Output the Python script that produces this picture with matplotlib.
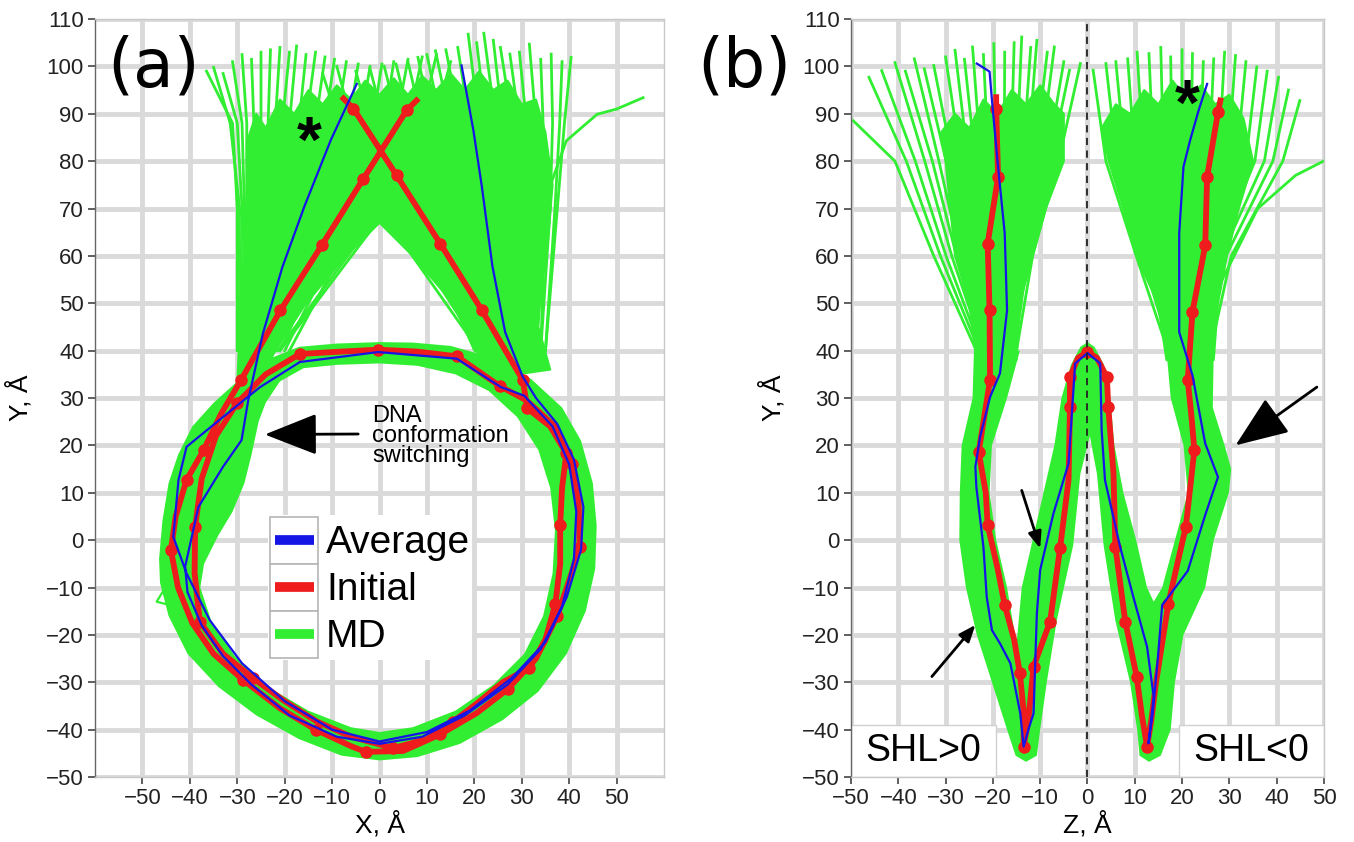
import matplotlib
matplotlib.use("Agg")
import matplotlib.pyplot as plt
from matplotlib.path import Path
from matplotlib.patches import PathPatch, Polygon, Rectangle
from matplotlib.lines import Line2D
from matplotlib.legend_handler import HandlerBase

plt.rcParams['font.family'] = ['Liberation Sans', 'DejaVu Sans']

GREEN = '#32ee32'
RED = '#ee1c1c'
BLUE = '#1515e6'
GRID = '#dadada'

# ---------------- panel (a): X-Y projection ----------------
# initial structure (red), path from one arm round both gyres to the other arm
init_a_x = [7.8, 5.7, -3.4, -12.2, -20.9, -29.2, -33.5, -37.1, -40.7, -43.0, -44.0, -42.5, -39.5, -35.0,
            -28.8, -21.0, -13.5, -6.0, -2.9, 5.0, 12.8, 20.5, 27.0, 33.0, 37.5, 40.5, 42.2, 42.0, 40.5,
            37.0, 31.0, 25.4, 16.3, 8.0, -0.3, -8.0, -16.8, -24.0, -30.0, -34.5, -37.5, -38.9, -39.0,
            -37.9, -33.0, -26.6, -20.0, -13.2, -6.0, 2.9, 10.0, 15.5, 20.5, 26.0, 31.6, 35.0, 37.1,
            38.1, 38.1, 38.5, 39.4, 36.0, 31.2, 30.2, 21.6, 12.8, 3.6, -5.5, -7.6]
init_a_y = [92.8, 90.7, 76.3, 62.2, 48.5, 33.8, 26.5, 19.0, 12.7, 5.0, -2.1, -10.0, -17.5, -24.0,
            -29.5, -35.5, -40.0, -43.5, -44.7, -44.5, -41.0, -36.5, -31.5, -25.0, -16.0, -7.0, -1.4,
            8.0, 16.0, 24.0, 29.5, 32.5, 38.8, 39.8, 40.2, 39.8, 39.3, 35.0, 29.0, 22.0, 13.0, 2.8,
            -7.0, -17.2, -24.0, -29.2, -34.0, -38.3, -41.5, -43.9, -42.0, -38.3, -34.5, -30.0, -27.0,
            -21.0, -13.4, -5.0, 3.2, 11.0, 18.3, 24.0, 27.8, 33.8, 48.5, 62.6, 77.0, 91.1, 93.2]
init_a_dots = [1, 2, 3, 4, 5, 7, 8, 10, 14, 16, 18, 20, 22, 24, 26, 28, 31, 32, 34, 36, 38, 41, 43,
               45, 49, 51, 54, 56, 58, 60, 62, 63, 64, 65, 66, 67]

# MD average (blue)
avg_a_x = [-4.8, -10.3, -15.9, -20.5, -24.6, -27.7, -29.1, -33.0, -38.2, -41.0, -40.5, -37.5, -33.0,
           -27.0, -19.0, -9.0, 0.0, 9.0, 18.0, 27.0, 34.0, 38.5, 41.0, 41.5, 40.0, 36.5, 30.5, 25.6,
           16.3, -0.3, -16.8, -25.2, -33.0, -40.7, -42.4, -43.5, -40.7, -35.8, -29.0, -20.0, -10.0,
           0.0, 10.0, 19.0, 28.0, 35.0, 39.5, 42.5, 43.0, 41.0, 37.5, 33.0, 30.2, 26.5, 23.8, 21.6,
           19.8, 17.3]
avg_a_y = [96.3, 84.4, 70.3, 57.6, 43.6, 29.5, 21.1, 15.5, 7.0, -5.6, -11.0, -18.0, -24.5, -30.5,
           -37.0, -41.5, -43.0, -41.5, -37.0, -30.5, -23.0, -14.0, -4.0, 6.0, 16.0, 24.0, 30.5, 32.3,
           38.3, 39.7, 37.6, 32.3, 26.0, 19.7, 12.7, 0.7, -7.0, -16.9, -26.0, -34.0, -40.0, -42.5,
           -40.5, -36.0, -29.0, -21.5, -12.0, -2.0, 7.0, 17.0, 24.5, 30.0, 34.5, 43.9, 57.9, 74.5,
           86.5, 100.2]

# MD ensemble: outline of the dense ring band (outer and inner edge)
ring_out_x = [0, -9, -17, -24, -30, -35, -39.5, -42.5, -44.5, -45.8, -46.5, -46.3, -44.5, -40.5, -34,
              -26, -17, -8, 0, 8, 17, 26, 33.5, 39.5, 43.5, 45.5, 45.8, 45, 42.5, 38.5, 32, 24, 15, 7]
ring_out_y = [41.8, 41.5, 40.8, 38, 33.5, 29, 24, 18, 12, 4, -4, -9, -16, -24, -31, -37, -42, -45.5,
              -46.5, -45.8, -43, -38, -32, -24, -15, -6, 3, 12, 21, 28, 34, 38.5, 41, 41.7]
ring_in_x = [0, -9, -16, -21, -24, -25.5, -27, -28.5, -31, -34, -37, -37.8, -35.5, -30.5, -23.5, -15,
             -6, 0, 7, 16, 24, 30.5, 34.5, 36.5, 37, 36, 33.5, 29, 23, 16, 8]
ring_in_y = [37.3, 37.0, 36.3, 33.5, 29, 25, 18, 12, 6, 1, -5, -10, -17, -24.5, -31, -36, -39.5, -40.5,
             -39.5, -36, -30.5, -24, -16, -7, 2, 11, 19, 26, 31.5, 35, 36.8]

# MD ensemble: dense core of the two linker-DNA fans (ragged top)
fan_a_x = [-30, -29.5, -28.5, -28, -28, -26, -24, -21, -18, -15, -12, -9, -6, -3, 0, 3, 6, 9, 12, 15,
           18, 21, 24, 27, 30, 33, 35, 36.5, 35.5, 34, 33.5, 36,
           29, 20, 15.5, 7, 0, -7, -15.5, -22, -24]
fan_a_y = [33, 45, 60, 75, 84, 90, 87, 93, 90, 95, 92, 96, 93, 97, 94, 97.5, 94, 98, 95, 98.5,
           95, 99, 95, 97, 92, 93, 86, 75, 63, 52, 45, 36,
           35, 40, 50, 60, 67, 60, 50, 40, 36]

# MD ensemble: single trajectories of the fans (start, y=70, y=88, free end)
hair_a_x = [
    [-30, -30, -31, -36.5], [-30, -29.5, -31.5, -35.0], [-29.5, -29, -30, -33.0], [-29, -28.5, -29, -31.0],
    [-29, -28, -28, -29.0], [-28, -27, -26.5, -27.0], [-28, -26.5, -25, -25.0], [-27, -25.5, -23.5, -23.0],
    [-27, -24.5, -22, -21.0], [-26, -23.5, -20.5, -19.0], [-26, -22.5, -19, -17.5], [-25, -21, -17, -15.5],
    [-25, -20, -15.5, -13.5], [-24, -18.5, -13.5, -11.5], [-24, -17, -11.5, -9.5], [-23, -15, -9, -7.0],
    [-23, -13, -6.5, -4.5], [-22, -11, -4, -2.0], [-22, -9, -1.5, 0.5], [-21, -7, 1, 3.0],
    [-20, -5, 3.5, 6.0], [-19, -3, 6, 9.0], [-21.5, -3, 8, 12.0], [-21, -1, 11, 15.0],
    [35, 37.5, 39, 40.4], [35, 37, 38, 38.5], [34, 36, 36.5, 36.2], [34, 35, 34.5, 34.0],
    [33, 34, 33, 31.6], [33, 33, 31, 29.5], [32, 32, 29.5, 27.5], [32, 31, 28, 25.5],
    [31, 30, 26, 24.0], [31, 29, 24.5, 22.0], [30, 28, 22.5, 20.5], [30, 27, 21, 18.7],
    [29, 26, 19, 16.5], [29, 25, 17, 14.0], [28, 23.5, 15, 11.8], [27, 22, 13, 10.0],
    [27, 20.5, 11, 8.1], [26, 19, 9, 6.0], [25, 17, 6.5, 3.5], [24, 15, 4, 1.0],
    [23, 12, 1, -2.0], [22, 9.5, -2, -5.0], [21.5, 5, -5, -9.0], [21, 2, -8, -12.0]]
hair_a_y = [
    [40, 70, 88, 99.0], [40, 70, 88, 99.8], [40, 70, 88, 98.5], [40, 70, 88, 101.0],
    [40, 70, 88, 102.5], [40, 70, 88, 101.5], [40, 70, 88, 103.0], [40, 70, 88, 103.5],
    [40, 70, 88, 104.0], [40, 70, 88, 103.0], [40, 70, 88, 104.3], [40, 70, 88, 102.5],
    [40, 70, 88, 103.0], [40, 70, 88, 102.0], [40, 70, 88, 101.5], [40, 70, 88, 101.0],
    [40, 70, 88, 100.5], [40, 70, 88, 100.0], [40, 70, 88, 100.5], [40, 70, 88, 101.0],
    [40, 70, 88, 101.5], [40, 70, 88, 102.0], [40, 65, 85, 102.5], [40, 66.5, 86, 101.0],
    [40, 70, 88, 101.9], [40, 70, 88, 101.0], [40, 70, 88, 102.6], [40, 70, 88, 101.5],
    [40, 70, 88, 104.7], [40, 70, 88, 103.0], [40, 70, 88, 102.6], [40, 70, 88, 104.0],
    [40, 70, 88, 105.5], [40, 70, 88, 107.0], [40, 70, 88, 105.0], [40, 70, 88, 106.8],
    [40, 70, 88, 104.0], [40, 70, 88, 103.5], [40, 70, 88, 103.3], [40, 70, 88, 102.5],
    [40, 70, 88, 101.9], [40, 70, 88, 101.0], [40, 70, 88, 100.5], [40, 70, 88, 100.0],
    [40, 70, 88, 99.5], [40, 70, 88, 99.0], [40, 65.5, 85, 100.0], [40, 67, 86, 98.5]]
stray_a_x = [33, 35, 39.4, 45.9, 50, 55.6]
stray_a_y = [60, 72, 84.3, 89.9, 91.0, 93.4]
glitch_a_x = [-43.8, -47.0, -40.0, -43.8]
glitch_a_y = [-7.7, -13.0, -14.8, -7.7]

# ---------------- panel (b): Z-Y projection ----------------
init_b_z = [-19.3, -19.3, -18.9, -21.1, -20.7, -20.6, -23.0, -21.5, -21.1, -19.0, -17.5, -15.5, -14.3,
            -13.5, -13.5, -12.5, -11.4, -7.9, -5.8, -4.0, -3.7, -3.7, -2.0, 0.0, 2.0, 4.1, 4.4, 5.5,
            5.9, 8.0, 10.4, 11.5, 12.6, 13.5, 14.5, 17.1, 19.0, 20.8, 22.6, 22.0, 21.2, 22.2, 24.9,
            25.3, 27.6, 28.1]
init_b_y = [93.5, 91.1, 76.7, 62.6, 48.5, 33.8, 18.6, 10.0, 3.2, -6.0, -13.7, -21.0, -28.1, -36.0,
            -43.6, -38.0, -26.7, -17.2, -1.75, 12.7, 28.1, 34.4, 38.5, 39.7, 38.5, 34.4, 28.1, 14.1,
            -1.4, -17.2, -28.8, -37.0, -43.6, -38.0, -30.0, -13.4, -5.0, 2.8, 19.0, 26.0, 33.8, 48.2,
            62.2, 76.7, 90.3, 92.8]
init_b_dots = [1, 2, 3, 4, 5, 6, 8, 10, 12, 14, 16, 17, 18, 20, 21, 23, 25, 26, 28, 29, 30, 32, 35,
               37, 38, 40, 41, 42, 43, 44]

avg_b_z = [-23.4, -20.7, -20.2, -18.9, -17.5, -17.0, -18.5, -20.6, -22.7, -23.7, -23.5, -22.0, -21.3,
           -20.2, -18.5, -16.3, -14.2, -13.5, -12.5, -11.4, -10.7, -10.0, -7.2, -4.0, -3.3, -2.6, 0.0,
           2.7, 3.0, 3.7, 6.9, 9.7, 12.6, 14.0, 12.9, 13.8, 14.9, 15.8, 21.2, 24.9, 27.6, 24.9, 22.2,
           19.4, 19.4, 20.3, 21.7, 23.5, 25.3]
avg_b_y = [100.6, 98.9, 92.9, 78.8, 64.8, 48.5, 35.2, 30.2, 21.8, 15.5, 11.3, -1.4, -12.0, -19.0,
           -21.8, -26.0, -36.6, -43.6, -40.0, -36.6, -15.5, -6.3, 5.6, 16.2, 26.7, 37.3, 39.5, 37.3,
           23.2, 12.7, -1.4, -12.0, -22.5, -33.1, -42.9, -36.6, -24.7, -13.7, -6.5, 5.3, 13.3, 20.4,
           34.8, 43.9, 64.8, 78.8, 84.4, 90.7, 96.3]

# outline of the dense W-shaped band
w_b_z = [-24, -24.3, -26.6, -27, -27.1, -25.7, -23.4, -20.2, -17, -15.2, -13, -10.7,
         -10, -8.6, -6.5, -3.0, -1.5, 0.5, 2.0, 3.4, 5.9, 9.0, 10.5, 11, 13, 15.5,
         17.6, 18.5, 20.3, 24.9, 26.7, 29.9, 30.4, 29, 26.5, 26.7,
         16.7, 17.6, 20.3, 21.2, 18.5, 15.8, 14,
         12.6, 10.3, 7.6, 5.7, 4.8, 3.5, 1.5, 0, -1.5, -3.5,
         -5.5, -7, -9.3, -11.6, -13.9, -15, -17, -19.3, -20.7, -20.2, -17, -14.3]
w_b_y = [40, 30, 20, 10, 0, -10, -20, -30, -40, -45.5, -46.8, -45.5,
         -40, -30, -17, -1, 14, 22, 14, -1, -17, -30, -40, -45.5, -46.8, -45.5,
         -40, -30, -20, -10, 0, 10, 15, 20, 28, 40,
         40, 30, 20, 10, 0, -10, -13,
         -10, 0, 10, 20, 30, 37, 40.8, 41.8, 40.8, 37,
         30, 20, 10, 0, -10, -22, -10, 0, 10, 20, 30, 40]

# dense cores of the two fans (ragged top)
fanl_b_z = [-23.5, -25, -28, -29, -30, -31, -28, -25, -22, -19, -16, -13, -10, -7, -5, -5, -8.8,
            -11.6, -14.3, -15]
fanl_b_y = [38, 50, 60, 70, 80, 86, 90, 87, 93, 90, 95, 92, 96, 92, 90, 80, 70, 60, 50, 38]
fanr_b_z = [16.7, 14.9, 10.3, 7.6, 4.5, 3, 6, 9, 12, 15, 18, 21, 24, 27, 30, 33, 35, 32, 29.5,
            27.6, 26.7]
fanr_b_y = [38, 50, 60, 70, 80, 87, 92, 90, 95, 92, 97, 93, 96, 92, 94, 89, 80, 70, 60, 50, 38]

# single trajectories of the fans (y = 40, 60, 80, free end)
hair_b_z = [
    [-23.5, -32.5, -40.7, -49.5], [-22.9, -31.1, -38.3, -46.2], [-22.4, -29.9, -36.4, -43.5],
    [-21.9, -28.7, -34.4, -40.7], [-21.6, -27.7, -32.8, -38.5], [-21.2, -26.9, -31.4, -36.6],
    [-20.8, -26.0, -29.9, -34.5], [-20.5, -25.1, -28.5, -32.5], [-20.0, -24.0, -26.7, -30.0],
    [-19.7, -23.1, -25.2, -28.0], [-19.3, -22.3, -23.7, -26.0], [-19.0, -21.5, -22.5, -24.3],
    [-18.6, -20.5, -20.9, -22.0], [-18.2, -19.6, -19.3, -19.8], [-17.8, -18.6, -17.6, -17.5],
    [-17.5, -17.7, -16.2, -15.5], [-17.2, -17.0, -15.0, -13.9], [-16.9, -16.2, -13.7, -12.0],
    [-16.6, -15.6, -12.7, -10.7], [-16.2, -14.7, -11.2, -8.5], [-16.0, -14.0, -10.1, -7.0],
    [-15.6, -13.1, -8.6, -5.0], [-15.4, -12.6, -7.8, -3.8], [-15.0, -11.6, -6.1, -1.5],
    [17.0, 10.3, 3.9, 1.2], [17.6, 11.5, 6.2, 3.9], [18.0, 12.5, 8.0, 6.0], [18.5, 13.7, 10.1, 8.5],
    [18.9, 14.6, 11.9, 10.5], [19.4, 15.7, 14.0, 13.0], [19.9, 16.9, 16.1, 15.5],
    [20.4, 17.8, 17.9, 17.6], [20.9, 18.9, 20.0, 20.0], [21.3, 20.0, 21.9, 22.2],
    [21.8, 21.0, 23.8, 24.5], [22.3, 22.0, 25.7, 26.7], [22.7, 23.1, 27.7, 29.0],
    [23.2, 24.1, 29.7, 31.3], [23.7, 25.2, 31.5, 33.5], [24.1, 26.2, 33.5, 35.8],
    [24.6, 27.2, 35.4, 38.0], [25.1, 28.3, 37.4, 40.4], [25.5, 29.3, 39.2, 42.5],
    [26.0, 30.4, 41.3, 44.9], [26.0, 36.0, 44.0, 50.5]]
hair_b_y = [
    [40, 60, 80, 88.5], [40, 60, 80, 97.7], [40, 60, 80, 99.1],
    [40, 60, 80, 100.8], [40, 60, 80, 99.0], [40, 60, 80, 101.6],
    [40, 60, 80, 99.5], [40, 60, 80, 100.2], [40, 60, 80, 102.0],
    [40, 60, 80, 103.4], [40, 60, 80, 101.5], [40, 60, 80, 104.1],
    [40, 60, 80, 102.5], [40, 60, 80, 104.8], [40, 60, 80, 103.0],
    [40, 60, 80, 105.0], [40, 60, 80, 106.2], [40, 60, 80, 104.0],
    [40, 60, 80, 105.5], [40, 60, 80, 103.0], [40, 60, 80, 104.1],
    [40, 60, 80, 101.0], [40, 60, 80, 99.2], [40, 60, 80, 100.6],
    [40, 60, 80, 99.2], [40, 60, 80, 100.6], [40, 60, 80, 101.0], [40, 60, 80, 101.6],
    [40, 60, 80, 103.0], [40, 60, 80, 102.7], [40, 60, 80, 104.0],
    [40, 60, 80, 102.0], [40, 60, 80, 103.5], [40, 60, 80, 102.7],
    [40, 60, 80, 101.0], [40, 60, 80, 101.6], [40, 60, 80, 103.0],
    [40, 60, 80, 102.3], [40, 60, 80, 101.0], [40, 60, 80, 99.9],
    [40, 60, 80, 99.0], [40, 60, 80, 97.7], [40, 60, 80, 95.0],
    [40, 60, 80, 92.8], [50, 70, 77, 80.3]]

legend_labels = ['Average', 'Initial', 'MD']


class BoxedKey(HandlerBase):
    # ggplot-like legend key: grey box with a thick bar inside
    def create_artists(self, legend, orig_handle, xdescent, ydescent, width, height, fontsize, trans):
        box = Rectangle((-xdescent, -ydescent), width, height, fc='white', ec='#b5b5b5', lw=1.2,
                        transform=trans)
        yc = -ydescent + height / 2
        bar = Line2D([-xdescent + 0.1 * width, -xdescent + 0.9 * width], [yc, yc],
                     color=orig_handle.get_color(), lw=7, solid_capstyle='butt', transform=trans)
        return [box, bar]


def style_axes(ax, xmin, xmax):
    ax.set_xlim(xmin, xmax)
    ax.set_ylim(-50, 110)
    ax.set_xticks(range(-50, 51, 10))
    ax.set_yticks(range(-50, 111, 10))
    ax.grid(True, color=GRID, lw=3.5)
    ax.set_axisbelow(True)
    for s in ax.spines.values():
        s.set_color('#c8c8c8')
        s.set_linewidth(1.0)
    ax.spines['left'].set_color('#666666')
    ax.tick_params(direction='out', length=5, width=1.1, color='#333333', labelsize=16,
                   labelcolor='#222222', pad=3)


def ring_patch(ox, oy, ix, iy):
    verts = list(zip(ox, oy)) + [(ox[0], oy[0])]
    codes = [Path.MOVETO] + [Path.LINETO] * (len(ox) - 1) + [Path.CLOSEPOLY]
    inner = list(zip(ix[::-1], iy[::-1]))
    verts += inner + [inner[0]]
    codes += [Path.MOVETO] + [Path.LINETO] * (len(inner) - 1) + [Path.CLOSEPOLY]
    return PathPatch(Path(verts, codes), fc=GREEN, ec='none', zorder=2)


fig = plt.figure(figsize=(13.54, 8.42), dpi=100)
ax_a = fig.add_axes([0.0702, 0.0772, 0.4202, 0.9002])
ax_b = fig.add_axes([0.6285, 0.0772, 0.3493, 0.9002])

# ---- panel (a)
style_axes(ax_a, -60, 60)
ax_a.add_patch(ring_patch(ring_out_x, ring_out_y, ring_in_x, ring_in_y))
ax_a.add_patch(Polygon(list(zip(fan_a_x, fan_a_y)), closed=True, fc=GREEN, ec=GREEN, lw=1.5,
                       joinstyle='round', zorder=2))
for hx, hy in zip(hair_a_x, hair_a_y):
    ax_a.plot(hx, hy, color=GREEN, lw=2.0, zorder=2)
ax_a.plot(stray_a_x, stray_a_y, color=GREEN, lw=2.0, zorder=2)
ax_a.plot(glitch_a_x, glitch_a_y, color=GREEN, lw=1.6, zorder=2)
md_a, = ax_a.plot([], [], color=GREEN)
ini_a, = ax_a.plot(init_a_x, init_a_y, color=RED, lw=4.2, marker='o', ms=8,
                   markevery=init_a_dots, zorder=3, solid_joinstyle='round')
av_a, = ax_a.plot(avg_a_x, avg_a_y, color=BLUE, lw=1.6, zorder=4)

leg = ax_a.legend([av_a, ini_a, md_a], legend_labels, handler_map={Line2D: BoxedKey()},
                  loc='upper left', bbox_to_anchor=(-23.5, 5.3), bbox_transform=ax_a.transData,
                  fontsize=28, handlelength=1.245, handleheight=1.48, labelspacing=0,
                  handletextpad=0.2, borderpad=0.05, borderaxespad=0, frameon=True,
                  fancybox=False, framealpha=1)
leg.get_frame().set_edgecolor('none')
leg.get_frame().set_facecolor('white')
leg.set_zorder(1.5)

ax_a.annotate('', xy=(-24.2, 22.3), xytext=(-4.5, 22.4),
              arrowprops=dict(arrowstyle='-|>,head_length=3.3,head_width=1.3', color='black',
                              lw=2, shrinkA=0, shrinkB=0, mutation_scale=10), zorder=6)
ax_a.text(-1.6, 28.6, 'DNA\nconformation\nswitching', fontsize=17, va='top', ha='left',
          linespacing=0.88, zorder=6)
ax_a.text(-14.9, 83.5, '*', fontsize=46, fontweight='bold', ha='center', va='center', zorder=6)
ax_a.set_xlabel('X, Å', fontsize=19)
ax_a.set_ylabel('Y, Å', fontsize=19)
ax_a.xaxis.set_label_coords(0.5, -0.063)
ax_a.yaxis.set_label_coords(-0.133, 0.5)
ax_a.xaxis.label.set_va('center')
ax_a.yaxis.label.set_va('center')

# ---- panel (b)
style_axes(ax_b, -50, 50)
ax_b.add_patch(Polygon(list(zip(w_b_z, w_b_y)), closed=True, fc=GREEN, ec='none', zorder=2))
for fz, fy in [(fanl_b_z, fanl_b_y), (fanr_b_z, fanr_b_y)]:
    ax_b.add_patch(Polygon(list(zip(fz, fy)), closed=True, fc=GREEN, ec=GREEN, lw=1.5,
                           joinstyle='round', zorder=2))
for hz, hy in zip(hair_b_z, hair_b_y):
    ax_b.plot(hz, hy, color=GREEN, lw=2.0, zorder=2)
ax_b.plot(init_b_z, init_b_y, color=RED, lw=4.2, marker='o', ms=8, markevery=init_b_dots,
          zorder=3, solid_joinstyle='round')
ax_b.plot(avg_b_z, avg_b_y, color=BLUE, lw=1.6, zorder=4)
ax_b.axvline(0, color='#222222', lw=1.3, ls=(0, (4, 3)), zorder=5)

for x0, lab in [(-50, 'SHL>0'), (19.3, 'SHL<0')]:
    ax_b.add_patch(Rectangle((x0, -50), 30.7, 11, fc='white', ec='#d0d0d0', lw=1, zorder=1.5))
    ax_b.text(x0 + 15.35, -44.6, lab, fontsize=27, ha='center', va='center', zorder=6)

ax_b.annotate('', xy=(31.3, 20.0), xytext=(48.5, 32.3),
              arrowprops=dict(arrowstyle='-|>,head_length=3.3,head_width=1.3', color='black',
                              lw=2, shrinkA=0, shrinkB=0, mutation_scale=10), zorder=6)
ax_b.annotate('', xy=(-10.0, -1.75), xytext=(-13.9, 10.5),
              arrowprops=dict(arrowstyle='-|>,head_length=1.0,head_width=0.4', color='black',
                              lw=2, shrinkA=0, shrinkB=0, mutation_scale=10), zorder=6)
ax_b.annotate('', xy=(-23.7, -17.9), xytext=(-32.9, -28.8),
              arrowprops=dict(arrowstyle='-|>,head_length=1.0,head_width=0.4', color='black',
                              lw=2, shrinkA=0, shrinkB=0, mutation_scale=10), zorder=6)
ax_b.text(21.2, 91.2, '*', fontsize=46, fontweight='bold', ha='center', va='center', zorder=6)
ax_b.set_xlabel('Z, Å', fontsize=19)
ax_b.set_ylabel('Y, Å', fontsize=19)
ax_b.xaxis.set_label_coords(0.5, -0.063)
ax_b.yaxis.set_label_coords(-0.167, 0.5)
ax_b.xaxis.label.set_va('center')
ax_b.yaxis.label.set_va('center')

fig.text(0.079, 0.92, '(a)', fontsize=48, family='DejaVu Sans', va='center', ha='left')
fig.text(0.515, 0.92, '(b)', fontsize=48, family='DejaVu Sans', va='center', ha='left')

fig.savefig('out.png', dpi=100)
